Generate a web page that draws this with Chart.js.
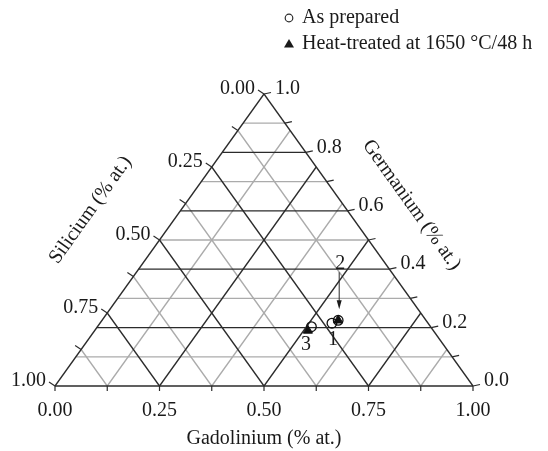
<!DOCTYPE html>
<html>
<head>
<meta charset="utf-8">
<script src="https://cdn.jsdelivr.net/npm/chart.js@4.4.1/dist/chart.umd.min.js"></script>
<style>
  html, body { margin: 0; padding: 0; background: #fff; }
  canvas { display: block; }
</style>
</head>
<body>
<canvas id="c" width="548" height="451"></canvas>
<script>
// Compositions (atomic fractions) of the Gd–Si–Ge samples
const preparedSi = [0.23, 0.21, 0.285];
const preparedGd = [0.555, 0.565, 0.512];
const preparedGe = [0.215, 0.225, 0.203];

const treatedSi = [0.21, 0.30];
const treatedGd = [0.565, 0.51];
const treatedGe = [0.225, 0.19];

// Sample numbers written next to the markers
const sampleLabels = ['1', '2', '3'];

// Axis tick values
const gdTicks = ['0.00', '0.25', '0.50', '0.75', '1.00'];
const siTicks = ['0.00', '0.25', '0.50', '0.75', '1.00'];
const geTicks = ['1.0', '0.8', '0.6', '0.4', '0.2', '0.0'];

const seriesNames = ['As prepared', 'Heat-treated at 1650 \u00b0C/48 h'];
const axisTitles = { gd: 'Gadolinium (% at.)', si: 'Silicium (% at.)', ge: 'Germanium (% at.)' };

// Ternary (Si, Gd, Ge) -> cartesian frame: Si=1 bottom-left, Gd=1 bottom-right, Ge=1 apex
function tern(si, gd, ge) { return { x: gd + ge / 2, y: ge }; }

const DARK = '#2b2b2b';
const LIGHT = '#ababab';
const FONT = '"Liberation Serif", "Times New Roman", serif';
const FS = '20px ';

function seg(a, b, color, order) {
  return {
    type: 'line', data: [a, b], borderColor: color, borderWidth: 1.3,
    pointRadius: 0, fill: false, tension: 0, order: order, clip: false
  };
}

const datasets = [];

// markers
datasets.push({
  type: 'scatter', label: seriesNames[0],
  data: preparedSi.map((s, i) => tern(s, preparedGd[i], preparedGe[i])),
  pointStyle: 'circle', pointRadius: 4.8, pointBorderWidth: 1.3,
  pointBorderColor: '#111', pointBackgroundColor: 'rgba(255,255,255,0)', order: 0, clip: false
});
datasets.push({
  type: 'scatter', label: seriesNames[1],
  data: treatedSi.map((s, i) => tern(s, treatedGd[i], treatedGe[i])),
  pointStyle: 'triangle', pointRadius: 5.3, pointBorderWidth: 1,
  pointBorderColor: '#111', pointBackgroundColor: '#111', order: 0, clip: false
});

// grid: Ge constant (horizontal), 10 divisions
for (let k = 1; k < 10; k++) {
  const ge = k / 10;
  const col = (k % 2 === 0) ? DARK : LIGHT;
  datasets.push(seg(tern(1 - ge, 0, ge), tern(0, 1 - ge, ge), col, k % 2 === 0 ? 1 : 2));
}
// grid: Gd constant and Si constant, 8 divisions
for (let k = 1; k < 8; k++) {
  const v = k / 8;
  const col = (k % 2 === 0) ? DARK : LIGHT;
  const ord = k % 2 === 0 ? 1 : 2;
  datasets.push(seg(tern(1 - v, v, 0), tern(0, v, 1 - v), col, ord));
  datasets.push(seg(tern(v, 1 - v, 0), tern(v, 0, 1 - v), col, ord));
}
// outer triangle
datasets.push(seg(tern(1, 0, 0), tern(0, 1, 0), DARK, 1));
datasets.push(seg(tern(0, 1, 0), tern(0, 0, 1), DARK, 1));
datasets.push(seg(tern(0, 0, 1), tern(1, 0, 0), DARK, 1));

const ternaryDecor = {
  id: 'ternaryDecor',
  afterDraw(chart) {
    const ctx = chart.ctx;
    const xs = chart.scales.x, ys = chart.scales.y;
    const P = (p) => ({ x: xs.getPixelForValue(p.x), y: ys.getPixelForValue(p.y) });
    ctx.save();
    ctx.strokeStyle = DARK;
    ctx.fillStyle = '#1a1a1a';
    ctx.lineWidth = 1.2;
    ctx.font = FS + FONT;

    const line = (x1, y1, x2, y2) => { ctx.beginPath(); ctx.moveTo(x1, y1); ctx.lineTo(x2, y2); ctx.stroke(); };

    // bottom axis (Gd)
    for (let k = 0; k <= 8; k++) {
      const p = P(tern(1 - k / 8, k / 8, 0));
      line(p.x, p.y, p.x, p.y + 5);
    }
    ctx.textAlign = 'center'; ctx.textBaseline = 'middle';
    gdTicks.forEach((t, i) => {
      const p = P(tern(1 - i / 4, i / 4, 0));
      ctx.fillText(t, p.x, p.y + 25);
    });

    // left axis (Si): 0 at apex, 1 at bottom-left
    for (let k = 0; k <= 8; k++) {
      const si = k / 8;
      const p = P(tern(si, 0, 1 - si));
      line(p.x, p.y, p.x - 6, p.y - 4);
    }
    ctx.textAlign = 'right';
    siTicks.forEach((t, i) => {
      const si = i / 4;
      const p = P(tern(si, 0, 1 - si));
      ctx.fillText(t, p.x - 9, p.y - 5);
    });

    // right axis (Ge): 1 at apex, 0 at bottom-right
    for (let k = 0; k <= 10; k++) {
      const ge = k / 10;
      const p = P(tern(0, 1 - ge, ge));
      line(p.x, p.y, p.x + 7, p.y - 1.5);
    }
    ctx.textAlign = 'left';
    geTicks.forEach((t, i) => {
      const ge = 1 - i / 5;
      const p = P(tern(0, 1 - ge, ge));
      ctx.fillText(t, p.x + 11, p.y - 5);
    });

    // axis titles
    const bl = P(tern(1, 0, 0)), br = P(tern(0, 1, 0)), ap = P(tern(0, 0, 1));
    ctx.textAlign = 'center'; ctx.textBaseline = 'middle';
    ctx.fillText(axisTitles.gd, (bl.x + br.x) / 2, bl.y + 53);
    const angL = Math.atan2(ap.y - bl.y, ap.x - bl.x);
    ctx.save();
    ctx.translate((bl.x + ap.x) / 2 - 69, (bl.y + ap.y) / 2 - 30);
    ctx.rotate(angL);
    ctx.fillText(axisTitles.si, 0, 0);
    ctx.restore();
    const angR = Math.atan2(br.y - ap.y, br.x - ap.x);
    ctx.save();
    ctx.translate((br.x + ap.x) / 2 + 43, (br.y + ap.y) / 2 - 35);
    ctx.rotate(angR);
    ctx.fillText(axisTitles.ge, 0, 0);
    ctx.restore();

    // sample numbers and arrow
    const mPrep = chart.getDatasetMeta(0).data;
    const mHeat = chart.getDatasetMeta(1).data;
    ctx.fillText(sampleLabels[0], mPrep[0].x + 1, mPrep[0].y + 17);
    const b = mPrep[1];
    ctx.fillText(sampleLabels[1], b.x + 2, b.y - 57);
    ctx.lineWidth = 1;
    line(b.x + 1, b.y - 48, b.x + 1, b.y - 18);
    ctx.beginPath();
    ctx.moveTo(b.x + 1, b.y - 11);
    ctx.lineTo(b.x - 1.5, b.y - 20);
    ctx.lineTo(b.x + 3.5, b.y - 20);
    ctx.closePath(); ctx.fill();
    ctx.fillText(sampleLabels[2], mHeat[1].x - 2, mHeat[1].y + 14);

    // legend
    ctx.textAlign = 'left';
    const lx = 289;
    ctx.lineWidth = 1.2;
    ctx.beginPath(); ctx.arc(lx, 18, 3.8, 0, Math.PI * 2); ctx.stroke();
    ctx.fillText(seriesNames[0], 302, 18);
    ctx.beginPath();
    ctx.moveTo(lx, 39); ctx.lineTo(lx - 5, 47.5); ctx.lineTo(lx + 5, 47.5); ctx.closePath(); ctx.fill();
    ctx.fillText(seriesNames[1], 302, 44);
    ctx.restore();
  }
};

new Chart(document.getElementById('c'), {
  type: 'scatter',
  data: { datasets },
  options: {
    responsive: false,
    maintainAspectRatio: false,
    animation: false,
    devicePixelRatio: 1,
    layout: { padding: { left: 55, right: 75, top: 94, bottom: 65 } },
    scales: {
      x: { type: 'linear', min: 0, max: 1, display: false },
      y: { type: 'linear', min: 0, max: 1, display: false }
    },
    plugins: { legend: { display: false }, tooltip: { enabled: false } }
  },
  plugins: [ternaryDecor]
});
</script>
</body>
</html>
